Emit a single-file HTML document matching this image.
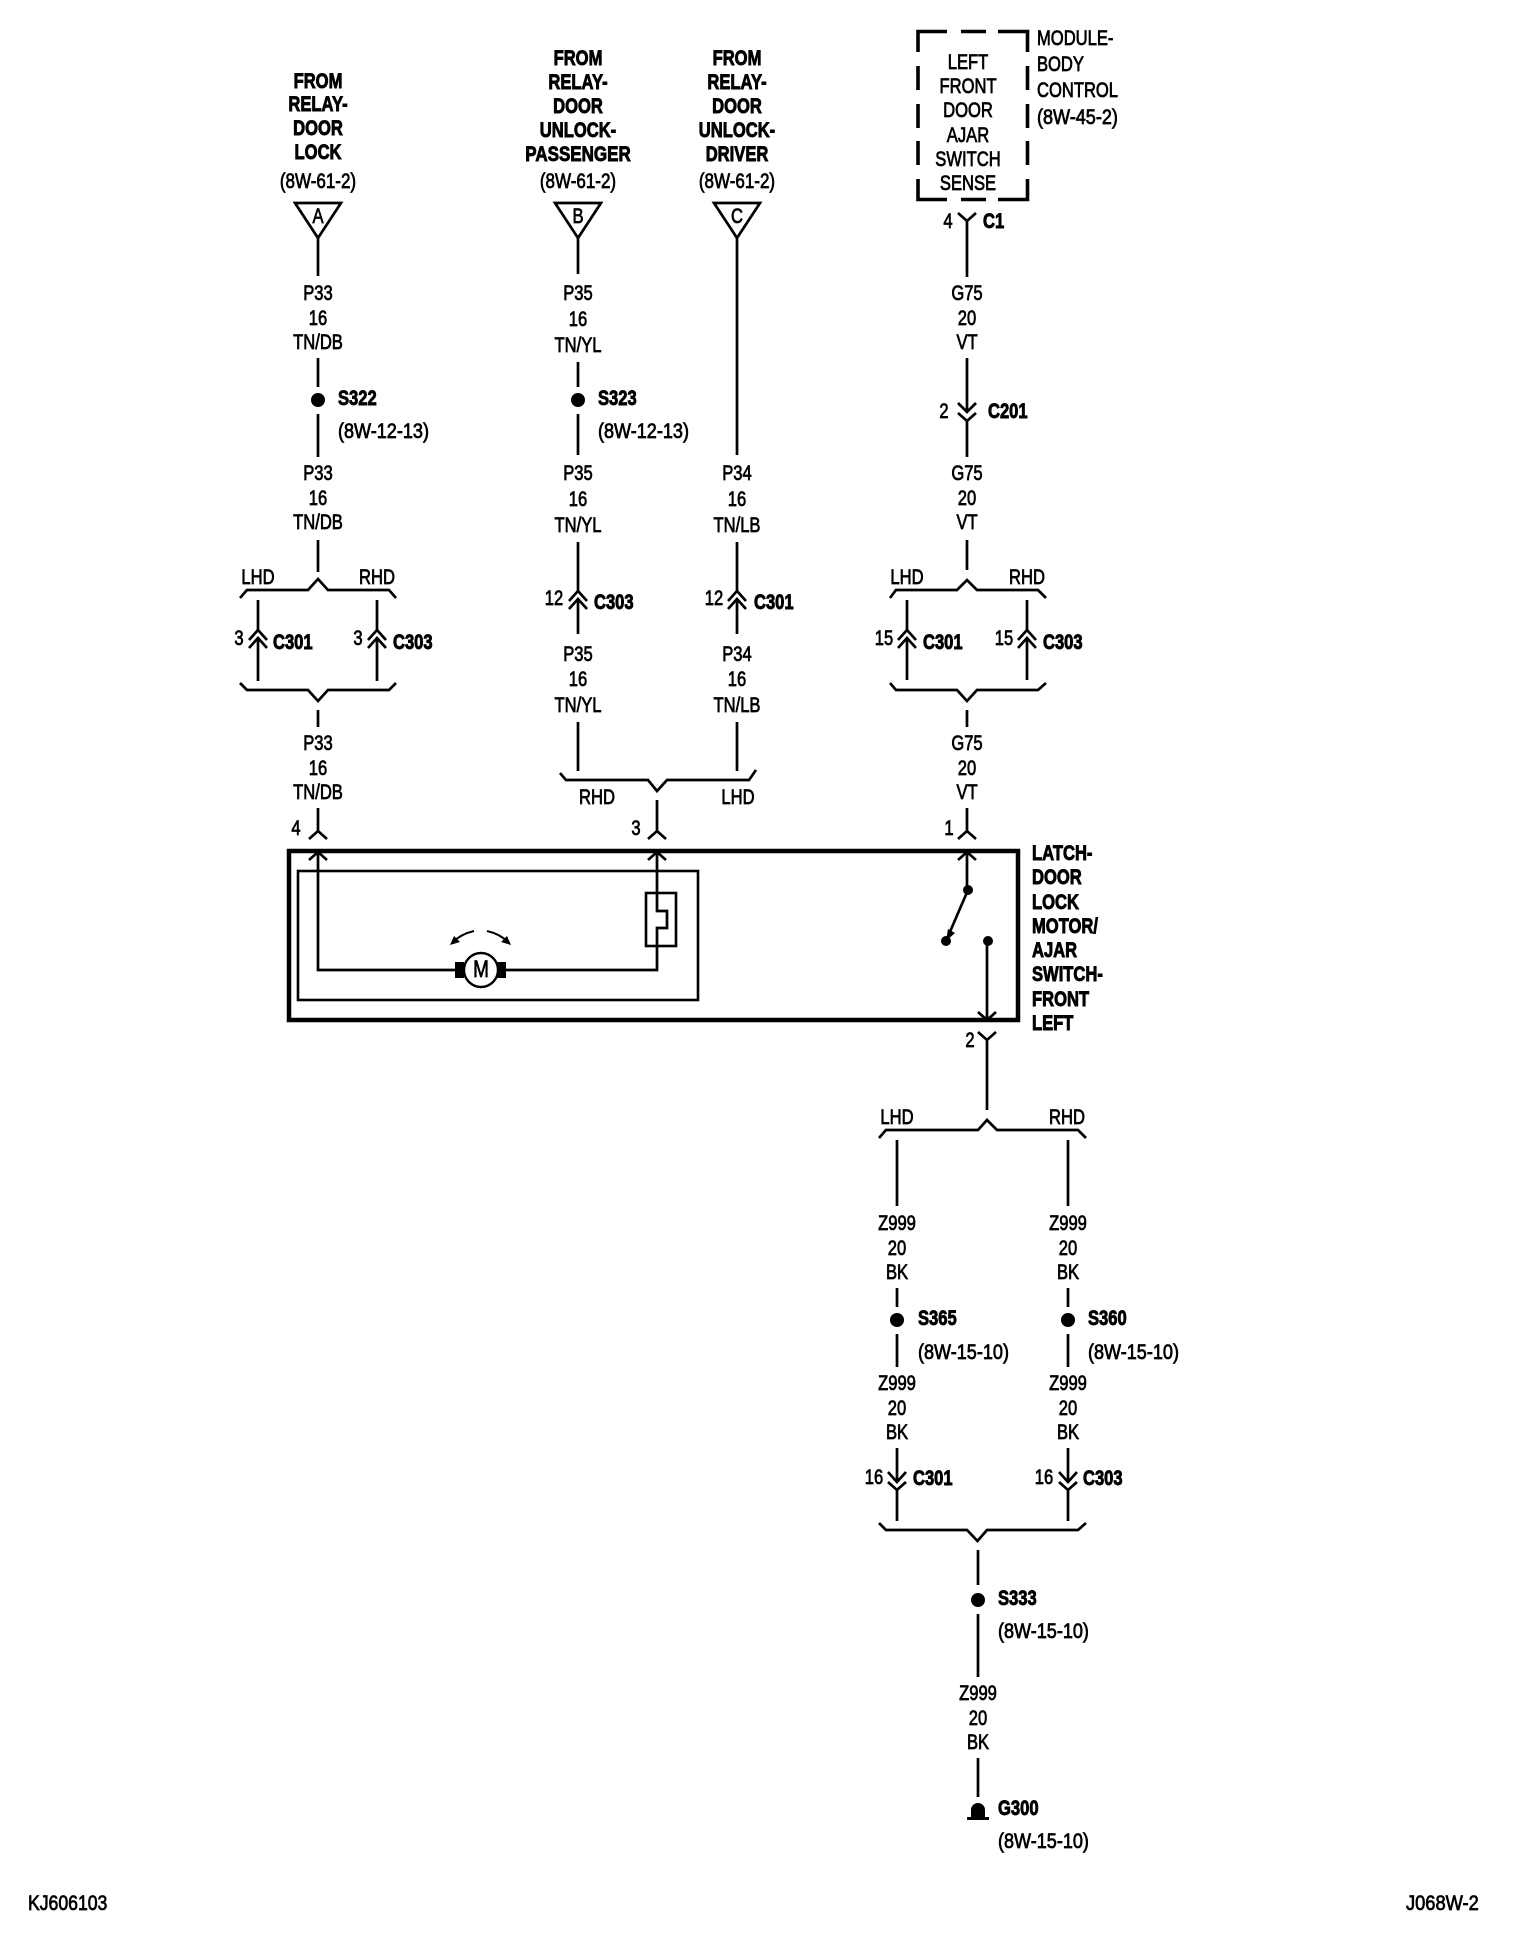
<!DOCTYPE html>
<html><head><meta charset="utf-8"><style>
html,body{margin:0;padding:0;background:#fff}
svg{display:block}
text{font-family:"Liberation Sans",sans-serif;font-size:21px;fill:#000;stroke:#000;stroke-width:.75px;transform-box:fill-box;transform:scaleX(.79)}
.m{text-anchor:middle;transform-origin:center}
.s{text-anchor:start;transform-origin:left center}
.b{font-weight:bold;stroke-width:.9px}
.p{transform:scaleX(.86)}
.q{transform:scaleX(.81)}
.w path,.w polyline,.w line{fill:none;stroke:#000;stroke-width:2.7}
</style></head><body>
<svg width="1520" height="1938" viewBox="0 0 1520 1938" xmlns="http://www.w3.org/2000/svg">
<rect width="1520" height="1938" fill="#fff"/>
<g class="w">
<!-- column A -->
<path d="M295 203H341L318 238ZM318 238V276M318 358V387M318 414V457M318 540V572"/>
<path d="M240 598L247 590H308L318 579L328 590H389L396 598"/>
<path d="M258 600V631M377 600V631M258 638V681M377 638V681"/>
<path d="M249 640L258 630L267 640M249 648L258 638L267 648M368 640L377 630L386 640M368 648L377 638L386 648"/>
<path d="M240 683L247 690H308L318 701L328 690H389L396 683"/>
<path d="M318 710V727M318 808V831M309 839L318 831L327 839"/>
<!-- column B -->
<path d="M555 203H601L578 238ZM578 238V274M578 362V387M578 414V455M578 542V591M578 599V634M578 722V771"/>
<path d="M569 601L578 591L587 601M569 609L578 599L587 609"/>
<!-- column C -->
<path d="M714 203H760L737 238ZM737 238V455M737 542V591M737 599V634M737 722V771"/>
<path d="M728 601L737 591L746 601M728 609L737 599L746 609"/>
<path d="M560 773L566 780H648L657 791L667 780H749L756 770"/>
<path d="M657 800V831M648 839L657 831L666 839"/>
<!-- column D -->
<path d="M918 52V31.500H947M961 31.500H986M998 31.500H1027.500V52M918 66V90M918 104V128M918 141V165M918 179V199.500H947M961 199.500H986M998 199.500H1027.500V179M1027.500 66V90M1027.500 104V128M1027.500 141V165" style="stroke-width:3.600"/>
<path d="M958 213L967 221L976 213M967 221V277M967 358V412M958 403L967 412L976 403M958 413L967 421L976 413M967 421V457M967 540V570"/>
<path d="M890 598L896 590H957L967 580L977 590H1038L1046 598"/>
<path d="M907 600V631M1027 600V631M907 638V680M1027 638V680"/>
<path d="M898 640L907 630L916 640M898 648L907 638L916 648M1018 640L1027 630L1036 640M1018 648L1027 638L1036 648"/>
<path d="M890 683L896 690H957L967 701L977 690H1038L1046 683"/>
<path d="M967 710V727M967 808V831M958 839L967 831L976 839"/>
<!-- latch box -->
<rect x="289" y="851" width="729" height="169" style="stroke:#000;stroke-width:4.500;fill:none"/>
<rect x="298" y="871" width="400" height="129" style="stroke:#000;stroke-width:2.600;fill:none"/>
<path d="M318 852V970H456M506 970H657V928H667V911H657V852"/>
<path d="M309 860L318 852L327 860M648 860L657 852L666 860M958 860L967 852L976 860"/>
<rect x="646" y="893" width="30" height="53" style="stroke:#000;stroke-width:2.600;fill:none"/>
<path d="M967 852V890M968 890L946 941M987 941V1020M978 1012L987 1020L996 1012M978 1032L987 1040L996 1032M987 1040V1110"/>
<path d="M474 931Q461 934 453 942M487 931Q500 934 508 942" style="stroke-width:2"/>
<!-- lower -->
<path d="M879 1138L886 1130H978L987 1120L997 1130H1078L1086 1138"/>
<path d="M897 1140V1206M1068 1140V1206M897 1288V1307M1068 1288V1307M897 1334V1367M1068 1334V1367M897 1448V1482M1068 1448V1482M897 1490V1521M1068 1490V1521"/>
<path d="M888 1472L897 1482L906 1472M888 1482L897 1490L906 1482M1059 1472L1068 1482L1077 1472M1059 1482L1068 1490L1077 1482"/>
<path d="M879 1523L886 1530H967L977.500 1541L987 1530H1078L1086 1523"/>
<path d="M978 1550V1585M978 1614V1677M978 1758V1797"/>
</g>
<!-- filled items -->
<circle cx="318" cy="400" r="7"/><circle cx="578" cy="400" r="7"/>
<circle cx="897" cy="1320" r="7"/><circle cx="1068" cy="1320" r="7"/><circle cx="978" cy="1600" r="7"/>
<circle cx="968" cy="890" r="5"/><circle cx="946" cy="941" r="5"/><circle cx="988" cy="941" r="5"/>
<path d="M946 941L948 929L955 933Z"/>
<rect x="455" y="962" width="9" height="16"/><rect x="497" y="962" width="9" height="16"/>
<circle cx="481" cy="970" r="17" fill="#fff" stroke="#000" stroke-width="2.400"/>
<path d="M450 945L454 936L460 942ZM511 945L507 936L501 942"/>
<path d="M967 1817H989V1820H967ZM971 1817V1810A7 7 0 0 1 985 1810V1817Z"/>
<g transform="translate(0,7)">
<!-- column A text -->
<text class="m b" x="318" y="81">FROM</text><text class="m b" x="318" y="104">RELAY-</text><text class="m b" x="318" y="128">DOOR</text><text class="m b" x="318" y="152">LOCK</text>
<text class="m q" x="318" y="181">(8W-61-2)</text><text class="m" x="318" y="216">A</text>
<text class="m" x="318" y="293">P33</text><text class="m" x="318" y="318">16</text><text class="m" x="318" y="342">TN/DB</text>
<text class="s b" x="338" y="398">S322</text><text class="s p" x="338" y="431">(8W-12-13)</text>
<text class="m" x="318" y="473">P33</text><text class="m" x="318" y="498">16</text><text class="m" x="318" y="522">TN/DB</text>
<text class="m" x="258" y="577">LHD</text><text class="m" x="377" y="577">RHD</text>
<text class="m" x="239" y="638">3</text><text class="s b" x="273" y="642">C301</text>
<text class="m" x="358" y="638">3</text><text class="s b" x="393" y="642">C303</text>
<text class="m" x="318" y="743">P33</text><text class="m" x="318" y="768">16</text><text class="m" x="318" y="792">TN/DB</text>
<text class="m" x="296" y="828">4</text>
<!-- column B text -->
<text class="m b" x="578" y="58">FROM</text><text class="m b" x="578" y="82">RELAY-</text><text class="m b" x="578" y="106">DOOR</text><text class="m b" x="578" y="130">UNLOCK-</text><text class="m b" x="578" y="154" style="transform:scaleX(.81)">PASSENGER</text>
<text class="m q" x="578" y="181">(8W-61-2)</text><text class="m" x="578" y="216">B</text>
<text class="m" x="578" y="293">P35</text><text class="m" x="578" y="319">16</text><text class="m" x="578" y="345">TN/YL</text>
<text class="s b" x="598" y="398">S323</text><text class="s p" x="598" y="431">(8W-12-13)</text>
<text class="m" x="578" y="473">P35</text><text class="m" x="578" y="499">16</text><text class="m" x="578" y="525">TN/YL</text>
<text class="m" x="554" y="598">12</text><text class="s b" x="594" y="602">C303</text>
<text class="m" x="578" y="654">P35</text><text class="m" x="578" y="679">16</text><text class="m" x="578" y="705">TN/YL</text>
<!-- column C text -->
<text class="m b" x="737" y="58">FROM</text><text class="m b" x="737" y="82">RELAY-</text><text class="m b" x="737" y="106">DOOR</text><text class="m b" x="737" y="130">UNLOCK-</text><text class="m b" x="737" y="154">DRIVER</text>
<text class="m q" x="737" y="181">(8W-61-2)</text><text class="m" x="737" y="216">C</text>
<text class="m" x="737" y="473">P34</text><text class="m" x="737" y="499">16</text><text class="m" x="737" y="525">TN/LB</text>
<text class="m" x="714" y="598">12</text><text class="s b" x="754" y="602">C301</text>
<text class="m" x="737" y="654">P34</text><text class="m" x="737" y="679">16</text><text class="m" x="737" y="705">TN/LB</text>
<text class="m" x="597" y="797">RHD</text><text class="m" x="738" y="797">LHD</text><text class="m" x="636" y="828">3</text>
<!-- column D text -->
<text class="m" x="968" y="62">LEFT</text><text class="m" x="968" y="86">FRONT</text><text class="m" x="968" y="110">DOOR</text><text class="m" x="968" y="135">AJAR</text><text class="m" x="968" y="159">SWITCH</text><text class="m" x="968" y="183">SENSE</text>
<text class="s" x="1037" y="38">MODULE-</text><text class="s" x="1037" y="64">BODY</text><text class="s" x="1037" y="90">CONTROL</text><text class="s p" x="1037" y="117">(8W-45-2)</text>
<text class="m" x="948" y="221">4</text><text class="s b" x="983" y="221">C1</text>
<text class="m" x="967" y="293">G75</text><text class="m" x="967" y="318">20</text><text class="m" x="967" y="342">VT</text>
<text class="m" x="944" y="411">2</text><text class="s b" x="988" y="411">C201</text>
<text class="m" x="967" y="473">G75</text><text class="m" x="967" y="498">20</text><text class="m" x="967" y="522">VT</text>
<text class="m" x="907" y="577">LHD</text><text class="m" x="1027" y="577">RHD</text>
<text class="m" x="884" y="638">15</text><text class="s b" x="923" y="642">C301</text>
<text class="m" x="1004" y="638">15</text><text class="s b" x="1043" y="642">C303</text>
<text class="m" x="967" y="743">G75</text><text class="m" x="967" y="768">20</text><text class="m" x="967" y="792">VT</text>
<text class="m" x="949" y="828">1</text>
<text class="m" x="481" y="970" style="font-size:24px">M</text>
<text class="s b" x="1032" y="853">LATCH-</text><text class="s b" x="1032" y="877">DOOR</text><text class="s b" x="1032" y="902">LOCK</text><text class="s b" x="1032" y="926">MOTOR/</text><text class="s b" x="1032" y="950">AJAR</text><text class="s b" x="1032" y="974">SWITCH-</text><text class="s b" x="1032" y="999">FRONT</text><text class="s b" x="1032" y="1023">LEFT</text>
<text class="m" x="970" y="1040">2</text>
<text class="m" x="897" y="1117">LHD</text><text class="m" x="1067" y="1117">RHD</text>
<!-- lower text -->
<text class="m" x="897" y="1223">Z999</text><text class="m" x="897" y="1248">20</text><text class="m" x="897" y="1272">BK</text>
<text class="m" x="1068" y="1223">Z999</text><text class="m" x="1068" y="1248">20</text><text class="m" x="1068" y="1272">BK</text>
<text class="s b" x="918" y="1318">S365</text><text class="s p" x="918" y="1352">(8W-15-10)</text>
<text class="s b" x="1088" y="1318">S360</text><text class="s p" x="1088" y="1352">(8W-15-10)</text>
<text class="m" x="897" y="1383">Z999</text><text class="m" x="897" y="1408">20</text><text class="m" x="897" y="1432">BK</text>
<text class="m" x="1068" y="1383">Z999</text><text class="m" x="1068" y="1408">20</text><text class="m" x="1068" y="1432">BK</text>
<text class="m" x="874" y="1477">16</text><text class="s b" x="913" y="1478">C301</text>
<text class="m" x="1044" y="1477">16</text><text class="s b" x="1083" y="1478">C303</text>
<text class="s b" x="998" y="1598">S333</text><text class="s p" x="998" y="1631">(8W-15-10)</text>
<text class="m" x="978" y="1693">Z999</text><text class="m" x="978" y="1718">20</text><text class="m" x="978" y="1742">BK</text>
<text class="s b" x="998" y="1808">G300</text><text class="s p" x="998" y="1841">(8W-15-10)</text>
<text class="s" x="28" y="1903" style="transform:scaleX(.84)">KJ606103</text>
<text class="s" x="1406" y="1903" style="transform:scaleX(.87)">J068W-2</text>
</g>
</svg>
</body></html>
